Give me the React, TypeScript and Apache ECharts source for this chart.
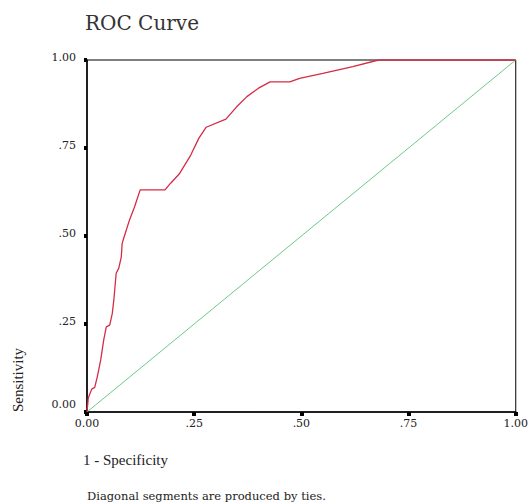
import React, { useEffect, useRef } from "react";
import * as echarts from "echarts";

// 1 - Specificity (false positive rate) and Sensitivity (true positive rate)
const fpr = [
  0.0, 0.003, 0.011, 0.018, 0.024, 0.032, 0.039, 0.045, 0.053, 0.059, 0.063,
  0.068, 0.074, 0.08, 0.082, 0.088, 0.099, 0.111, 0.124, 0.182, 0.195, 0.215,
  0.242, 0.261, 0.278, 0.324, 0.349, 0.373, 0.4, 0.427, 0.473, 0.496, 0.55,
  0.62, 0.68, 1.0,
];
const tpr = [
  0.0, 0.04, 0.065, 0.07, 0.1, 0.148, 0.205, 0.242, 0.247, 0.28, 0.323, 0.394,
  0.408, 0.441, 0.479, 0.503, 0.545, 0.583, 0.631, 0.631, 0.65, 0.676, 0.73,
  0.778, 0.809, 0.832, 0.867, 0.896, 0.92, 0.938, 0.938, 0.948, 0.962, 0.981,
  1.0, 1.0,
];
const refX = [0, 1];
const refY = [0, 1];

const xTickLabels = ["0.00", ".25", ".50", ".75", "1.00"];
const yTickLabels = ["0.00", ".25", ".50", ".75", "1.00"];

const titleText = "ROC Curve";
const xName = "1 - Specificity";
const yName = "Sensitivity";
const footnote = "Diagonal segments are produced by ties.";

export default function App() {
  const ref = useRef<HTMLDivElement>(null);
  useEffect(() => {
    if (!ref.current) return;
    const chart = echarts.init(ref.current, null, { renderer: "svg" });
    const idx = (v: number) => Math.round(v / 0.25);
    chart.setOption({
      animation: false,
      backgroundColor: "#ffffff",
      title: {
        text: titleText,
        left: 85,
        top: 13,
        padding: 0,
        textStyle: {
          fontFamily: "DejaVu Serif",
          fontSize: 20,
          fontWeight: "normal",
          color: "#333",
        },
      },
      grid: {
        left: 87,
        right: 11,
        top: 60,
        bottom: 90,
        show: true,
        borderColor: "#000",
        borderWidth: 1,
        backgroundColor: "transparent",
      },
      xAxis: {
        type: "value",
        min: 0,
        max: 1,
        interval: 0.25,
        axisLine: { show: true, lineStyle: { color: "#000", width: 1.5 } },
        axisTick: { show: true, inside: false, length: 4, lineStyle: { color: "#000", width: 4 } },
        splitLine: { show: false },
        axisLabel: {
          margin: 6,
          fontFamily: "DejaVu Serif",
          fontSize: 11,
          color: "#222",
          formatter: (v: number) => xTickLabels[idx(v)],
        },
      },
      yAxis: {
        type: "value",
        min: 0,
        max: 1,
        interval: 0.25,
        axisLine: { show: true, lineStyle: { color: "#000", width: 1.5 } },
        axisTick: { show: true, inside: false, length: 3, lineStyle: { color: "#000", width: 4 } },
        splitLine: { show: false },
        axisLabel: {
          margin: 11,
          color: "#222",
          formatter: (v: number) =>
            idx(v) === 0 ? `{lo|${yTickLabels[0]}}` : `{n|${yTickLabels[idx(v)]}}`,
          rich: {
            n: { fontFamily: "DejaVu Serif", fontSize: 11, color: "#222", padding: [0, 0, 5, 0] },
            lo: { fontFamily: "DejaVu Serif", fontSize: 11, color: "#222", padding: [0, 0, 16, 0] },
          },
        },
      },
      series: [
        {
          type: "line",
          data: refX.map((x, i) => [x, refY[i]]),
          symbol: "none",
          lineStyle: { color: "#6cc98a", width: 1 },
          z: 2,
        },
        {
          type: "line",
          data: fpr.map((x, i) => [x, tpr[i]]),
          symbol: "none",
          lineStyle: { color: "#d42c46", width: 1.3 },
          z: 3,
        },
      ],
      graphic: [
        {
          type: "text",
          x: 18,
          y: 380,
          rotation: Math.PI / 2,
          style: {
            text: yName,
            fontFamily: "Liberation Serif",
            fontSize: 15,
            fill: "#222",
            align: "center",
            verticalAlign: "middle",
          },
        },
        {
          type: "text",
          x: 83,
          y: 460,
          style: {
            text: xName,
            fontFamily: "Liberation Serif",
            fontSize: 15,
            fill: "#222",
            align: "left",
            verticalAlign: "middle",
          },
        },
        {
          type: "text",
          x: 87,
          y: 496,
          style: {
            text: footnote,
            fontFamily: "DejaVu Serif",
            fontSize: 11.5,
            fill: "#222",
            align: "left",
            verticalAlign: "middle",
          },
        },
      ],
    });
    return () => chart.dispose();
  }, []);
  return (
    <div
      ref={ref}
      style={{ position: "fixed", left: 0, top: 0, width: 531, height: 502 }}
    />
  );
}
